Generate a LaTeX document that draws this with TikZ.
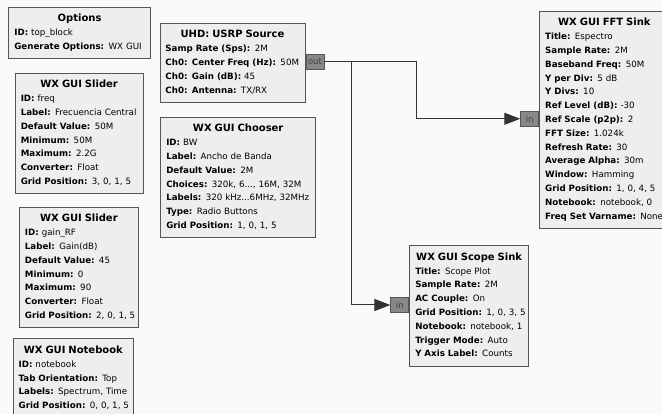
\documentclass[tikz,border=0pt]{standalone}
\usepackage{fontspec}
\setmainfont{DejaVu Sans}
\usetikzlibrary{arrows.meta, positioning}

\definecolor{canvas}{HTML}{FAFAFA}
\definecolor{blockfill}{HTML}{EEEEEE}
\definecolor{blockline}{HTML}{555555}
\definecolor{portfill}{HTML}{888888}

% one parameter line and the block title
\newcommand{\fld}[2]{\par\mbox{\strut\textbf{#1:} #2}}
\newcommand{\ttl}[1]{{\centering\strut\fontsize{10}{13.8}\selectfont\textbf{#1}\par}}

\begin{document}
\begin{tikzpicture}[
    x=1pt, y=-1pt,
    every node/.style={font=\fontsize{8.7}{13.8}\selectfont},
    blk/.style={draw=blockline, fill=blockfill, line width=0.9pt, anchor=north west, align=left, inner xsep=5.5pt, inner ysep=5.1pt},
    port/.style={draw=blockline, fill=portfill, line width=0.9pt, text=black!75, inner sep=0pt, minimum width=18pt, minimum height=14.6pt},
    wire/.style={draw=black!80, line width=1pt, -{Triangle[length=16pt, width=12pt]}}
]
\useasboundingbox (0,0) rectangle (662,414);
\clip (0,0) rectangle (662,414);
\fill[canvas] (0,0) rectangle (662,414);

% variable blocks
\node[blk, text width=130.4pt] (options) at (8.4,6.7) {\ttl{Options}\fld{ID}{top\_block}\fld{Generate Options}{WX GUI}};
\node[blk, text width=116.8pt] (freq) at (14.8,72.7) {\ttl{WX GUI Slider}\fld{ID}{freq}\fld{Label}{Frecuencia Central}\fld{Default Value}{50M}\fld{Minimum}{50M}\fld{Maximum}{2.2G}\fld{Converter}{Float}\fld{Grid Position}{3, 0, 1, 5}};
\node[blk, text width=108pt] (gain) at (19,206.7) {\ttl{WX GUI Slider}\fld{ID}{gain\_RF}\fld{Label}{Gain(dB)}\fld{Default Value}{45}\fld{Minimum}{0}\fld{Maximum}{90}\fld{Converter}{Float}\fld{Grid Position}{2, 0, 1, 5}};
\node[blk, text width=109.6pt] (notebook) at (12.7,338.3) {\ttl{WX GUI Notebook}\fld{ID}{notebook}\fld{Tab Orientation}{Top}\fld{Labels}{Spectrum, Time}\fld{Grid Position}{0, 0, 1, 5}};
\node[blk, text width=143.9pt] (chooser) at (160.3,116.7) {\ttl{WX GUI Chooser}\fld{ID}{BW}\fld{Label}{Ancho de Banda}\fld{Default Value}{2M}\fld{Choices}{320k, 6..., 16M, 32M}\fld{Labels}{320 kHz...6MHz, 32MHz}\fld{Type}{Radio Buttons}\fld{Grid Position}{1, 0, 1, 5}};

% signal blocks
\node[blk, text width=134.1pt] (usrp) at (159.5,22.7) {\ttl{UHD: USRP Source}\fld{Samp Rate (Sps)}{2M}\fld{Ch0: Center Freq (Hz)}{50M}\fld{Ch0: Gain (dB)}{45}\fld{Ch0: Antenna}{TX/RX}};
\node[blk, text width=118.6pt] (fft) at (539.2,10.7) {\ttl{WX GUI FFT Sink}\fld{Title}{Espectro}\fld{Sample Rate}{2M}\fld{Baseband Freq}{50M}\fld{Y per Div}{5 dB}\fld{Y Divs}{10}\fld{Ref Level (dB)}{-30}\fld{Ref Scale (p2p)}{2}\fld{FFT Size}{1.024k}\fld{Refresh Rate}{30}\fld{Average Alpha}{30m}\fld{Window}{Hamming}\fld{Grid Position}{1, 0, 4, 5}\fld{Notebook}{notebook, 0}\fld{Freq Set Varname}{None}};
\node[blk, text width=108pt] (scope) at (409.3,245) {\ttl{WX GUI Scope Sink}\fld{Title}{Scope Plot}\fld{Sample Rate}{2M}\fld{AC Couple}{On}\fld{Grid Position}{1, 0, 3, 5}\fld{Notebook}{notebook, 1}\fld{Trigger Mode}{Auto}\fld{Y Axis Label}{Counts}};

% ports
\node[port, anchor=west] (out) at (usrp.east |- 0,61.8) {out};
\node[port, anchor=east] (fftin) at (fft.west |- 0,118.8) {in};
\node[port, anchor=east] (scopein) at (scope.west |- 0,305) {in};

\draw[wire] (out.east) -- ++(92,0) |- (fftin.west);
\draw[wire] (out.east) -- ++(27,0) |- (scopein.west);
\end{tikzpicture}
\end{document}
